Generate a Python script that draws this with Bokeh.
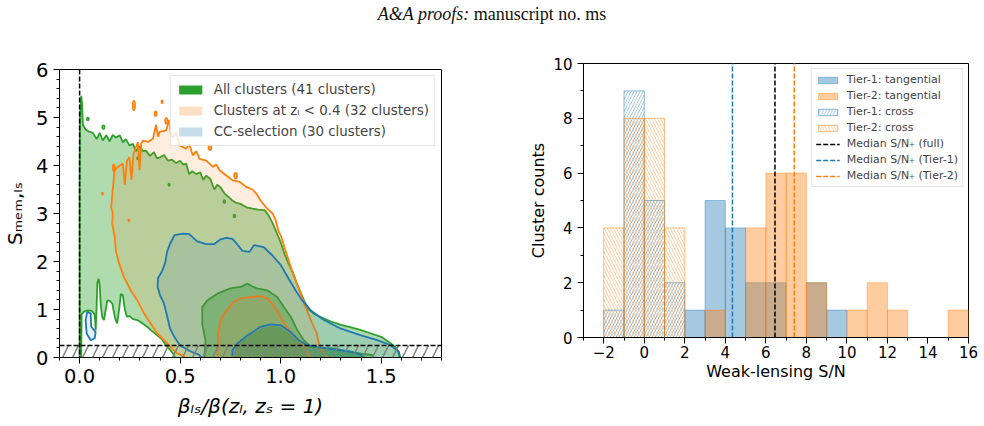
import numpy as np
from bokeh.plotting import figure
from bokeh.models import (ColumnDataSource, FixedTicker, Legend, LegendItem, Span,
                          BoxAnnotation, Div, Range1d, PrintfTickFormatter)
from bokeh.layouts import row, column
from bokeh.embed import file_html
from bokeh.resources import INLINE

GREEN, ORANGE, BLUE = "#2ca02c", "#ff7f0e", "#1f77b4"
FONT = "DejaVu Sans"

# ---------------- left panel: contour outlines (beta_ls/beta , S_mem) ----------------
green_outer = [
    (0.0, -0.05), (0.0, 3.5), (0.002, 5.0), (0.008, 5.45), (0.012, 5.3), (0.016, 4.85),
    (0.03, 4.75), (0.05, 4.7), (0.066, 4.68), (0.085, 4.55), (0.1, 4.68), (0.115, 4.52),
    (0.133, 4.63), (0.15, 4.5), (0.165, 4.64), (0.18, 4.58), (0.2, 4.63), (0.215, 4.48),
    (0.23, 4.55), (0.248, 4.42), (0.265, 4.45), (0.28, 4.3), (0.3, 4.4), (0.315, 4.3),
    (0.33, 4.31), (0.35, 4.2), (0.37, 4.28), (0.385, 4.15), (0.4, 4.17), (0.42, 4.22),
    (0.44, 4.1), (0.46, 4.12), (0.48, 4.05), (0.5, 4.1), (0.515, 4.02), (0.53, 4.04),
    (0.545, 3.82), (0.56, 3.88), (0.58, 3.82), (0.6, 3.86), (0.615, 3.7), (0.63, 3.79),
    (0.65, 3.72), (0.67, 3.5), (0.685, 3.6), (0.70, 3.55), (0.72, 3.42), (0.74, 3.35),
    (0.76, 3.27), (0.78, 3.22), (0.8, 3.2), (0.83, 3.13), (0.86, 3.1), (0.89, 3.08),
    (0.92, 3.07), (0.94, 2.96), (0.96, 2.8), (0.98, 2.6), (1.0, 2.4), (1.02, 2.15),
    (1.04, 1.95), (1.06, 1.78), (1.08, 1.54), (1.1, 1.35), (1.12, 1.15), (1.14, 1.0),
    (1.17, 0.9), (1.2, 0.84), (1.25, 0.75), (1.3, 0.68), (1.35, 0.63), (1.4, 0.57),
    (1.45, 0.5), (1.5, 0.43), (1.54, 0.32), (1.57, 0.22), (1.585, 0.12), (1.59, 0.02),
    (1.592, -0.05),
    # lower-left empty region
    (0.475, -0.05), (0.47, 0.05), (0.452, 0.15), (0.428, 0.26), (0.41, 0.38), (0.386, 0.46),
    (0.36, 0.55), (0.336, 0.64), (0.31, 0.72), (0.287, 0.78), (0.265, 0.8), (0.25, 0.86),
    (0.235, 0.85), (0.225, 1.0), (0.215, 1.3), (0.205, 1.32), (0.198, 1.05), (0.187, 0.71),
    (0.178, 0.8), (0.168, 1.0), (0.163, 1.12), (0.15, 1.18), (0.138, 1.19), (0.13, 1.0),
    (0.121, 0.78), (0.112, 0.85), (0.105, 1.1), (0.1, 1.5), (0.095, 1.64), (0.088, 1.55),
    (0.085, 1.1), (0.08, 0.57), (0.075, 0.9), (0.06, 0.97), (0.04, 0.98), (0.02, 0.95),
    (0.01, 0.9), (0.008, -0.05),
]
green_mid = [
    (0.62, -0.05), (0.626, 0.36), (0.61, 0.7), (0.61, 1.05), (0.635, 1.19), (0.685, 1.33),
    (0.75, 1.44), (0.8, 1.47), (0.834, 1.54), (0.86, 1.48), (0.883, 1.44), (0.933, 1.40),
    (0.983, 1.26), (1.016, 1.05), (1.05, 0.85), (1.083, 0.57), (1.115, 0.36), (1.15, 0.22),
    (1.2, 0.2), (1.265, 0.19), (1.33, 0.13), (1.40, 0.08), (1.46, 0.05), (1.46, -0.05),
]
green_inner = [
    (0.77, -0.05), (0.775, 0.2), (0.8, 0.33), (0.85, 0.48), (0.91, 0.62), (0.96, 0.66),
    (1.0, 0.63), (1.04, 0.52), (1.08, 0.37), (1.12, 0.27), (1.2, 0.2), (1.3, 0.13),
    (1.42, 0.06), (1.42, -0.05),
]
orange_outer = [
    (0.52, -0.05), (0.52, 0.03), (0.486, 0.08), (0.452, 0.22), (0.42, 0.36), (0.386, 0.5),
    (0.353, 0.71), (0.32, 0.92), (0.287, 1.19), (0.254, 1.40), (0.22, 1.68), (0.196, 1.96),
    (0.18, 2.23), (0.175, 2.5), (0.162, 2.79), (0.165, 3.0), (0.157, 3.13), (0.166, 3.55),
    (0.174, 3.9), (0.19, 3.97), (0.215, 4.04), (0.225, 3.6), (0.235, 4.1), (0.248, 4.17),
    (0.258, 3.7), (0.268, 4.25), (0.29, 4.49), (0.298, 3.9), (0.306, 4.45), (0.315, 4.52),
    (0.34, 4.49), (0.365, 4.56), (0.38, 4.85), (0.39, 4.6), (0.398, 4.70), (0.43, 4.73),
    (0.445, 4.95), (0.455, 4.6), (0.464, 4.59), (0.48, 4.7), (0.497, 4.42), (0.53, 4.35),
    (0.545, 4.45), (0.563, 4.21), (0.58, 4.3), (0.597, 4.14), (0.63, 4.1), (0.663, 3.97),
    (0.68, 4.02), (0.696, 3.9), (0.73, 3.79), (0.762, 3.69), (0.795, 3.66), (0.83, 3.55),
    (0.86, 3.5), (0.88, 3.41), (0.90, 3.27), (0.933, 3.1), (0.96, 3.0), (0.975, 2.86),
    (0.99, 2.62), (1.0, 2.55), (1.024, 2.23), (1.05, 1.89), (1.074, 1.61), (1.10, 1.33),
    (1.124, 1.05), (1.15, 0.78), (1.18, 0.5), (1.19, 0.29), (1.207, 0.15), (1.23, 0.01),
    (1.235, -0.05),
]
orange_inner = [
    (0.685, -0.05), (0.685, 0.01), (0.69, 0.5), (0.70, 0.78), (0.73, 0.98), (0.767, 1.16),
    (0.80, 1.23), (0.85, 1.26), (0.90, 1.28), (0.933, 1.23), (0.958, 1.12), (0.99, 0.92),
    (1.03, 0.64), (1.074, 0.43), (1.107, 0.29), (1.13, 0.15), (1.145, 0.01), (1.15, -0.05),
]
blue_outer = [
    (0.61, -0.05), (0.597, 0.05), (0.55, 0.13), (0.50, 0.25), (0.472, 0.42), (0.45, 0.6),
    (0.436, 0.85), (0.42, 1.12), (0.40, 1.3), (0.388, 1.47), (0.39, 1.65), (0.41, 1.8),
    (0.425, 1.96), (0.435, 2.2), (0.45, 2.37), (0.472, 2.55), (0.514, 2.58), (0.545, 2.57),
    (0.585, 2.42), (0.63, 2.36), (0.668, 2.36), (0.7, 2.46), (0.73, 2.49), (0.76, 2.47),
    (0.784, 2.36), (0.81, 2.22), (0.845, 2.2), (0.867, 2.34), (0.916, 2.30), (0.958, 2.13),
    (1.0, 1.93), (1.04, 1.64), (1.074, 1.40), (1.107, 1.19), (1.15, 0.98), (1.215, 0.78),
    (1.30, 0.60), (1.40, 0.46), (1.48, 0.36), (1.546, 0.26), (1.588, 0.12), (1.595, 0.0),
    (1.6, -0.05),
]
blue_inner = [
    (0.76, -0.05), (0.76, 0.15), (0.784, 0.29), (0.834, 0.46), (0.90, 0.64), (0.95, 0.69),
    (1.0, 0.67), (1.05, 0.53), (1.09, 0.36), (1.13, 0.26), (1.23, 0.19), (1.35, 0.12),
    (1.405, 0.05), (1.40, -0.05),
]
blue_loop = [
    (0.038, 0.95), (0.055, 0.92), (0.058, 0.64), (0.08, 0.53), (0.075, 0.40), (0.055, 0.36),
    (0.035, 0.5), (0.03, 0.78),
]
# small isolated contour islands
orange_blob_x = [0.27, 0.378, 0.41, 0.431, 0.648, 0.776, 0.113, 0.17, 0.245]
orange_blob_y = [5.25, 5.08, 5.33, 4.93, 4.37, 3.79, 3.41, 3.95, 2.86]
orange_blob_w = [0.012, 0.01, 0.007, 0.012, 0.015, 0.015, 0.006, 0.01, 0.006]
orange_blob_h = [0.2, 0.1, 0.06, 0.12, 0.1, 0.12, 0.05, 0.15, 0.04]
green_blob_x = [0.041, 0.118, 0.29, 0.445, 0.72, 0.77]
green_blob_y = [4.97, 4.8, 4.15, 3.6, 3.25, 2.95]
green_blob_w = [0.01, 0.012, 0.008, 0.008, 0.01, 0.01]
green_blob_h = [0.06, 0.08, 0.05, 0.05, 0.06, 0.06]

cut_S = 0.25          # S_mem cut (hatched)
cut_beta = 0.0        # beta cut (vertical dashed)

left_labels = ["All clusters (41 clusters)", "Clusters at z\u2097 < 0.4 (32 clusters)",
               "CC-selection (30 clusters)"]

# ---------------- right panel: histograms ----------------
bin_edges = list(range(-2, 17))
tier1_tan = [0, 0, 0, 0, 1, 5, 4, 2, 2, 0, 2, 1, 0, 0, 0, 0, 0, 0]
tier2_tan = [0, 0, 0, 0, 0, 1, 0, 4, 6, 6, 2, 0, 1, 2, 1, 0, 0, 1]
tier1_cross = [1, 9, 5, 2, 0, 0, 0, 0, 0, 0, 0, 0, 0, 0, 0, 0, 0, 0]
tier2_cross = [4, 8, 8, 4, 0, 0, 0, 0, 0, 0, 0, 0, 0, 0, 0, 0, 0, 0]
median_full, median_t1, median_t2 = 6.45, 4.35, 7.4

right_xticks = [-2, 0, 2, 4, 6, 8, 10, 12, 14, 16]
right_xtick_labels = ["\u22122", "0", "2", "4", "6", "8", "10", "12", "14", "16"]
right_yticks = [0, 2, 4, 6, 8, 10]

# =================== figures ===================
def style_axes(p, tick_size, label_size):
    p.xgrid.visible = False
    p.ygrid.visible = False
    p.outline_line_color = "black"
    p.outline_line_alpha = 1
    p.outline_line_width = 1
    p.background_fill_color = "white"
    p.border_fill_color = "white"
    for ax in (p.xaxis[0], p.yaxis[0]):
        ax.major_tick_in = 0
        ax.minor_tick_in = 0
        ax.major_tick_out = 6
        ax.minor_tick_out = 3
        ax.major_tick_line_color = "black"
        ax.minor_tick_line_color = "black"
        ax.axis_line_color = "black"
        ax.major_label_text_font = FONT
        ax.major_label_text_font_size = tick_size
        ax.major_label_text_color = "black"
        ax.axis_label_text_font = FONT
        ax.axis_label_text_font_size = label_size
        ax.axis_label_text_font_style = "normal"
        ax.axis_label_text_color = "black"


p1 = figure(width=470, height=396, min_border_left=59, min_border_right=29,
            min_border_top=39, min_border_bottom=69,
            x_range=Range1d(-0.1, 1.8), y_range=Range1d(0, 6),
            output_backend="svg", toolbar_location=None)
style_axes(p1, "19.5px", "20px")
p1.xaxis.ticker = FixedTicker(ticks=[0, 0.5, 1.0, 1.5],
                              minor_ticks=[round(v, 2) for v in np.arange(-0.1, 1.81, 0.1)])
p1.xaxis.formatter = PrintfTickFormatter(format="%.1f")
p1.yaxis.ticker = FixedTicker(ticks=[0, 1, 2, 3, 4, 5, 6],
                              minor_ticks=[round(v, 2) for v in np.arange(0, 6.01, 0.2)])
p1.xaxis.axis_label = "\u03b2\u2097\u209b/\u03b2(z\u2097, z\u209b = 1)"
p1.xaxis.axis_label_text_font_style = "italic"
p1.yaxis.axis_label = "S\u2098\u2091\u2098,\u2097\u209b"
p1.xaxis.axis_label_standoff = 8
p1.yaxis.axis_label_standoff = 6


def xy(pairs):
    return [a for a, _ in pairs], [b for _, b in pairs]


def draw_fill(pairs, color, alpha):
    xs, ys = xy(pairs)
    p1.patch(xs, ys, fill_color=color, fill_alpha=alpha, line_color=None)


def draw_line(pairs, color):
    xs, ys = xy(pairs)
    p1.line(xs + [xs[0]], ys + [ys[0]], line_color=color, line_width=1.8)


GA, OA, BA = 0.38, 0.13, 0.12
draw_fill(green_outer, GREEN, GA)
draw_fill(green_mid, GREEN, GA)
draw_fill(green_inner, GREEN, 0.5)
draw_line(green_outer, GREEN)
draw_line(green_mid, GREEN)
p1.ellipse(green_blob_x, green_blob_y, width=green_blob_w, height=green_blob_h,
           fill_color=GREEN, fill_alpha=GA, line_color=GREEN, line_width=1.6)
draw_fill(orange_outer, ORANGE, OA)
draw_fill(orange_inner, ORANGE, OA)
draw_line(orange_outer, ORANGE)
draw_line(orange_inner, ORANGE)
p1.ellipse(orange_blob_x, orange_blob_y, width=orange_blob_w, height=orange_blob_h,
           fill_color=ORANGE, fill_alpha=0.5, line_color=ORANGE, line_width=1.6)
draw_fill(blue_outer, BLUE, BA)
draw_fill(blue_inner, BLUE, BA)
draw_fill(blue_loop, BLUE, BA)
draw_line(blue_outer, BLUE)
draw_line(blue_inner, BLUE)
draw_line(blue_loop, BLUE)

p1.add_layout(BoxAnnotation(bottom=0, top=cut_S, fill_color=None, fill_alpha=0,
                            line_color=None, hatch_pattern="right_diagonal_line",
                            hatch_color="gray", hatch_alpha=1, hatch_scale=20,
                            hatch_weight=1.5))
p1.add_layout(Span(location=cut_S, dimension="width", line_color="black",
                   line_dash="5 2", line_width=1.5))
p1.add_layout(Span(location=cut_beta, dimension="height", line_color="black",
                   line_dash="5 2", line_width=1.5))

nan = [float("nan")]
lg1 = p1.quad(left=nan, right=nan, top=nan, bottom=nan, fill_color=GREEN, fill_alpha=1, line_color=None)
lg2 = p1.quad(left=nan, right=nan, top=nan, bottom=nan, fill_color=ORANGE, fill_alpha=0.25, line_color=None)
lg3 = p1.quad(left=nan, right=nan, top=nan, bottom=nan, fill_color=BLUE, fill_alpha=0.25, line_color=None)
leg1 = Legend(items=[LegendItem(label=l, renderers=[r]) for l, r in zip(left_labels, [lg1, lg2, lg3])],
              location="top_right", margin=6, padding=5, spacing=4, label_height=17,
              glyph_height=11, glyph_width=29, label_standoff=9,
              label_text_font=FONT, label_text_font_size="13.4px",
              border_line_color="#cccccc", border_line_width=1,
              background_fill_alpha=0.8)
p1.add_layout(leg1)

# ---------- right ----------
p2 = figure(width=514, height=396, min_border_left=113, min_border_right=16,
            min_border_top=33, min_border_bottom=89,
            x_range=Range1d(-3, 16), y_range=Range1d(0, 10),
            output_backend="svg", toolbar_location=None)
style_axes(p2, "15px", "16px")
p2.xaxis.ticker = FixedTicker(ticks=right_xticks, minor_ticks=list(range(-3, 17)))
p2.xaxis.major_label_overrides = dict(zip(right_xticks, right_xtick_labels))
p2.yaxis.ticker = FixedTicker(ticks=right_yticks, minor_ticks=list(range(0, 11)))
p2.xaxis.axis_label = "Weak-lensing S/N"
p2.yaxis.axis_label = "Cluster counts"
p2.xaxis.major_label_standoff = 2
p2.xaxis.axis_label_standoff = 1
p2.yaxis.axis_label_standoff = 2


def bars(counts):
    idx = [i for i, c in enumerate(counts) if c > 0]
    return ColumnDataSource(dict(left=[bin_edges[i] for i in idx],
                                 right=[bin_edges[i + 1] for i in idx],
                                 top=[counts[i] for i in idx],
                                 bottom=[0] * len(idx)))


r_t1 = p2.quad(source=bars(tier1_tan), left="left", right="right", top="top", bottom="bottom",
               fill_color=BLUE, fill_alpha=0.4, line_color=BLUE, line_alpha=0.4, line_width=1)
r_t2 = p2.quad(source=bars(tier2_tan), left="left", right="right", top="top", bottom="bottom",
               fill_color=ORANGE, fill_alpha=0.4, line_color=ORANGE, line_alpha=0.4, line_width=1)
r_c1 = p2.quad(source=bars(tier1_cross), left="left", right="right", top="top", bottom="bottom",
               fill_color=None, line_color=BLUE, line_alpha=0.5, line_width=1,
               hatch_pattern="right_diagonal_line", hatch_color=BLUE, hatch_alpha=0.5,
               hatch_scale=6, hatch_weight=0.8)
r_c2 = p2.quad(source=bars(tier2_cross), left="left", right="right", top="top", bottom="bottom",
               fill_color=None, line_color=ORANGE, line_alpha=0.5, line_width=1,
               hatch_pattern="left_diagonal_line", hatch_color=ORANGE, hatch_alpha=0.5,
               hatch_scale=6, hatch_weight=0.8)
r_mf = p2.ray(x=[median_full], y=[0], length=0, angle=np.pi / 2, line_color="black",
              line_dash="5 2", line_width=1.5)
r_m1 = p2.ray(x=[median_t1], y=[0], length=0, angle=np.pi / 2, line_color=BLUE,
              line_dash="5 2", line_width=1.5)
r_m2 = p2.ray(x=[median_t2], y=[0], length=0, angle=np.pi / 2, line_color=ORANGE,
              line_dash="5 2", line_width=1.5)

right_labels = ["Tier-1: tangential", "Tier-2: tangential", "Tier-1: cross", "Tier-2: cross",
                "Median S/N\u208a (full)", "Median S/N\u208a (Tier-1)", "Median S/N\u208a (Tier-2)"]
leg2 = Legend(items=[LegendItem(label=l, renderers=[r]) for l, r in
                     zip(right_labels, [r_t1, r_t2, r_c1, r_c2, r_mf, r_m1, r_m2])],
              location="top_right", margin=5, padding=4, spacing=3, label_height=13,
              glyph_height=8, glyph_width=24, label_standoff=7,
              label_text_font=FONT, label_text_font_size="11px",
              border_line_color="#cccccc", border_line_width=1,
              background_fill_alpha=0.8)
p2.add_layout(leg2)

header = Div(text="<i>A&amp;A proofs:</i> manuscript no. ms", width=984, height=30,
             styles={"text-align": "center", "font-family": "Liberation Serif",
                     "font-size": "18px", "line-height": "20px", "padding-top": "4px",
                     "box-sizing": "border-box", "margin": "0", "color": "#111"})

layout = column(header, row(column(p1), column(p2)))
open("out.html", "w").write(file_html(layout, INLINE))
